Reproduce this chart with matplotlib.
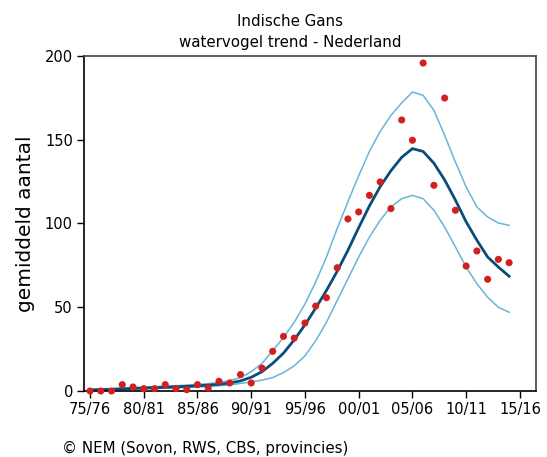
import matplotlib
matplotlib.use('Agg')
import matplotlib.pyplot as plt

# seizoenen 75/76 .. 14/15 (index 0..39)
seasons = list(range(40))
counts = [0, 0, 0, 3.8, 2.4, 1.4, 1.4, 3.8, 1.4, 0.8,
          3.8, 1.8, 5.8, 4.8, 9.8, 4.8, 13.7, 23.7, 32.6, 31.6,
          40.6, 50.7, 55.7, 73.6, 102.7, 106.9, 116.8, 124.8, 108.9, 161.8,
          149.7, 195.8, 122.8, 174.9, 107.9, 74.6, 83.6, 66.7, 78.6, 76.6]
trend = [0.6, 0.8, 1.0, 1.3, 1.5, 1.8, 2.0, 2.2, 2.5, 2.8,
         3.1, 3.5, 4.0, 4.8, 6.0, 8.2, 11.5, 16.5, 22.6, 30.5,
         39.5, 49.5, 60.0, 71.5, 84.0, 97.5, 110.5, 122.0, 131.5, 139.5,
         144.7, 143.0, 136.0, 126.0, 114.0, 101.0, 90.0, 80.0, 74.0, 68.5]
upper = [1.0, 1.2, 1.4, 1.7, 2.0, 2.3, 2.6, 2.9, 3.2, 3.5,
         3.9, 4.4, 5.1, 6.2, 8.0, 11.5, 16.5, 24.0, 32.0, 41.0,
         52.0, 65.0, 80.0, 97.0, 113.0, 128.5, 143.0, 155.0, 164.5, 172.0,
         178.5, 176.5, 167.6, 152.6, 136.7, 121.8, 109.9, 103.9, 100.3, 98.9]
lower = [0.3, 0.5, 0.7, 0.9, 1.1, 1.3, 1.5, 1.7, 1.9, 2.1,
         2.4, 2.7, 3.1, 3.6, 4.5, 5.4, 6.5, 8.0, 11.0, 15.0,
         21.0, 30.0, 41.0, 54.0, 67.0, 80.0, 91.9, 101.9, 109.9, 114.8,
         116.8, 114.8, 107.9, 97.9, 86.0, 74.0, 64.0, 56.0, 50.0, 47.0]
tick_pos = [0, 5, 10, 15, 20, 25, 30, 35, 40]
tick_labels = ['75/76', '80/81', '85/86', '90/91', '95/96', '00/01', '05/06', '10/11', '15/16']

fig = plt.figure(figsize=(5.47, 4.57), dpi=100)
ax = fig.add_axes([84/547, 1-391/457, 452/547, 335/457])

ax.plot(seasons, upper, color='#6ab4d6', lw=1.1)
ax.plot(seasons, lower, color='#6ab4d6', lw=1.1)
ax.plot(seasons, trend, color='#0b4d7a', lw=2.0)
ax.scatter(seasons, counts, color='#d21f1f', s=26, zorder=5, clip_on=False, edgecolor='none')

ax.set_xlim(-0.56, 41.5)
ax.set_ylim(0, 200)
ax.set_yticks([0, 50, 100, 150, 200])
ax.set_xticks(tick_pos)
ax.set_xticklabels(tick_labels)
ax.tick_params(direction='out', length=5, width=1, labelsize=10.5, pad=3, colors='black')
for s in ['top', 'right']:
    ax.spines[s].set_color('#444444')
for s in ax.spines.values():
    s.set_linewidth(1.2)

ax.set_ylabel('gemiddeld aantal', fontsize=14.5, labelpad=7)
fig.text(290/547, 1-21/457, 'Indische Gans', ha='center', va='center', fontsize=10.8)
fig.text(290/547, 1-43/457, 'watervogel trend - Nederland', ha='center', va='center', fontsize=10.8)
fig.text(62/547, 1-448/457, '\u00a9 NEM (Sovon, RWS, CBS, provincies)', ha='left', va='center', fontsize=10.8)

fig.savefig('out.png', dpi=100)
